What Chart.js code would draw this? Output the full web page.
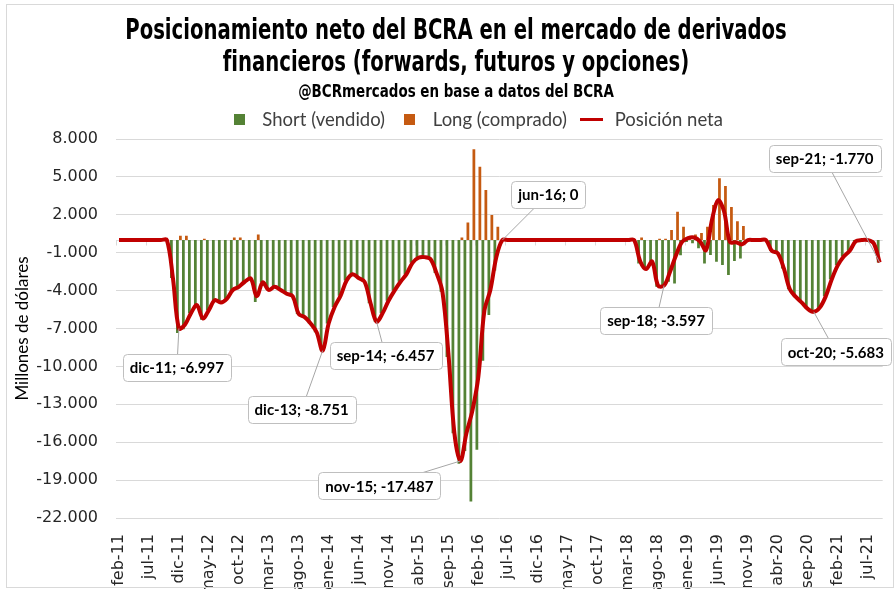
<!DOCTYPE html>
<html lang="es">
<head>
<meta charset="utf-8">
<title>Posicionamiento neto del BCRA</title>
<script src="https://cdn.jsdelivr.net/npm/chart.js@4.4.1/dist/chart.umd.min.js"></script>
<style>
    html, body { margin: 0; padding: 0; background: #fff; }
    #wrap { position: relative; width: 895px; height: 589px; }
    #frame { position: absolute; left: 6px; top: 4px; width: 886px; height: 582px; border: 1px solid #d9d9d9; pointer-events: none; }
</style>
</head>
<body>
<div id="wrap">
    <canvas id="chart" width="895" height="589"></canvas>
    <div id="frame"></div>
</div>
<script>
// millones de USD, mensual desde feb-11 hasta sep-21
const shortPos = [
    0, 0, 0, 0, 0, 0, 0, 0, 0, -3000, -7350,                                      // 2011 (feb-dic)
    -7050, -5800, -5150, -6300, -5550, -4750, -4950, -4650, -4150, -3900, -3300, -3050, // 2012
    -4900, -3350, -3950, -3700, -3950, -4250, -4450, -5850, -6100, -6600, -7300, -8751, // 2013
    -6600, -5300, -4400, -3200, -2700, -3000, -3300, -5000, -6457, -5800, -4800, -4000, // 2014
    -3300, -2700, -1800, -1400, -1350, -1500, -2600, -4100, -9250, -15300, -17700, -16700, // 2015
    -20700, -16600, -9560, -5930, -2400, 0, 0, 0, 0, 0, 0, 0,                     // 2016
    0, 0, 0, 0, 0, 0, 0, 0, 0, 0, 0, 0,                                           // 2017
    0, 0, 0, 0, -1850, -2300, -1700, -3700, -3700, -3300, -3430, -1200,           // 2018
    -150, -250, -650, -1850, -1190, -1720, -1980, -2770, -1650, -1450, -100, 0,   // 2019
    0, 0, -850, -1050, -2250, -3900, -4500, -4950, -5450, -5683, -5350, -4450,    // 2020
    -3100, -2000, -1300, -850, -100, 0, 0, -250, -1770                            // 2021 (ene-sep)
];

const longPos = [
    0, 0, 0, 0, 0, 0, 0, 0, 0, 0, 350,
    350, 0, 0, 100, 0, 0, 0, 0, 200, 200, 0, 0,
    450, 0, 0, 0, 0, 0, 0, 0, 0, 0, 0, 0,
    0, 0, 0, 0, 0, 0, 0, 0, 0, 0, 0, 0,
    0, 0, 0, 0, 0, 0, 0, 0, 0, 0, 200, 1400,
    7180, 5800, 3960, 1980, 1050, 0, 0, 0, 0, 0, 0, 0,
    0, 0, 0, 0, 0, 0, 0, 0, 0, 0, 0, 0,
    0, 0, 0, 0, 210, 0, 0, 100, 100, 800, 2240, 1050,
    300, 450, 550, 1050, 2770, 4890, 4280, 2620, 1480, 1110, 100, 0,
    0, 0, 0, 0, 0, 0, 0, 0, 0, 0, 0, 0,
    0, 0, 0, 0, 0, 0, 0, 0, 0
];

const netPosition = [
    0, 0, 0, 0, 0, 0, 0, 0, 0, -3000, -6997,
    -6700, -5800, -5150, -6200, -5550, -4750, -4950, -4650, -3950, -3700, -3300, -3050,
    -4450, -3350, -3950, -3700, -3950, -4250, -4450, -5850, -6100, -6600, -7300, -8751,
    -6600, -5300, -4400, -3200, -2700, -3000, -3300, -5000, -6457, -5800, -4800, -4000,
    -3300, -2700, -1800, -1400, -1350, -1500, -2600, -4100, -9000, -15300, -17487, -15300,
    -13500, -10800, -5600, -3950, -1350, 0, 0, 0, 0, 0, 0, 0,
    0, 0, 0, 0, 0, 0, 0, 0, 0, 0, 0, 0,
    0, 0, 0, 0, -1650, -2300, -1700, -3600, -3597, -2500, -1200, -150,
    150, 200, -100, -800, 1600, 3150, 2300, -150, -170, -340, 0, 0,
    0, 0, -850, -1050, -2250, -3900, -4500, -4950, -5450, -5683, -5350, -4450,
    -3100, -2000, -1300, -850, -100, 0, 0, -250, -1770
];

const monthNames = ['ene', 'feb', 'mar', 'abr', 'may', 'jun', 'jul', 'ago', 'sep', 'oct', 'nov', 'dic'];
const startYear = 2011;
const startMonth = 1; // feb

const months = [];
for (let k = 0; k < netPosition.length; k++) {
    const m = startMonth + k;
    months.push(monthNames[m % 12] + '-' + String((startYear + Math.floor(m / 12)) % 100).padStart(2, '0'));
}

const yMin = -22000;
const yMax = 8000;
const yStep = 3000;
const labelEvery = 5;

const titleText = ['Posicionamiento neto del BCRA en el mercado de derivados', 'financieros (forwards, futuros y opciones)'];
const subtitleText = '@BCRmercados en base a datos del BCRA';

// puntos anotados: indice del mes y desplazamiento de la caja respecto del punto
const callouts = [
    { index: 10, dx: -2, dy: 39 },
    { index: 34, dx: -21, dy: 59 },
    { index: 43, dx: 9, dy: 34 },
    { index: 57, dx: -81, dy: 25 },
    { index: 64, dx: 46, dy: -46 },
    { index: 91, dx: -8, dy: 35 },
    { index: 116, dx: 22, dy: 40 },
    { index: 127, dx: -55, dy: -104 }
];

const GREEN = '#548235';
const ORANGE = '#C55A11';
const RED = '#C00000';
const GRID = '#d9d9d9';
const CONDENSED = '"Liberation Sans Narrow", "DejaVu Sans Condensed", sans-serif';

function fmt(v) {
    const s = Math.abs(Math.round(v)).toString().replace(/\B(?=(\d{3})+(?!\d))/g, '.');
    return (v < 0 ? '-' : '') + s;
}

function swatch(w, h, color) {
    const c = document.createElement('canvas');
    c.width = w;
    c.height = h;
    const g = c.getContext('2d');
    g.fillStyle = color;
    g.fillRect(0, 0, w, h);
    return c;
}

// titulo en letra condensada (estirado a lo alto como en el original)
const titlePlugin = {
    id: 'condensedTitle',
    afterDraw(chart) {
        const ctx = chart.ctx;
        const rows = [
            { text: titleText[0], y: 32, size: 28, sx: 0.78 },
            { text: titleText[1], y: 64, size: 28, sx: 0.78 },
            { text: subtitleText, y: 92, size: 18, sx: 0.83 }
        ];
        rows.forEach(r => {
            ctx.save();
            ctx.font = 'bold ' + r.size + 'px ' + CONDENSED;
            ctx.fillStyle = '#000';
            ctx.textAlign = 'center';
            ctx.textBaseline = 'middle';
            ctx.translate(456, r.y);
            ctx.scale(r.sx, 1);
            ctx.fillText(r.text, 0, 0);
            ctx.restore();
        });
    }
};

// la leyenda del original esta algo corrida a la derecha
const legendShiftPlugin = {
    id: 'legendShift',
    afterLayout(chart) {
        if (chart.legend) {
            chart.legend.left += 26;
            chart.legend.right += 26;
        }
    }
};

// linea del eje en 0 con sus marcas
const zeroAxisPlugin = {
    id: 'zeroAxis',
    beforeDatasetsDraw(chart) {
        const { ctx, chartArea, scales: { x, y } } = chart;
        const y0 = Math.round(y.getPixelForValue(0)) + 0.5;
        const half = (x.getPixelForValue(1) - x.getPixelForValue(0)) / 2;
        ctx.save();
        ctx.strokeStyle = GRID;
        ctx.lineWidth = 1;
        ctx.beginPath();
        ctx.moveTo(chartArea.left, y0);
        ctx.lineTo(chartArea.right, y0);
        for (let k = 0; k <= months.length; k += labelEvery) {
            const px = Math.round(x.getPixelForValue(k) - half) + 0.5;
            ctx.moveTo(px, y0);
            ctx.lineTo(px, y0 + 5);
        }
        ctx.stroke();
        ctx.restore();
    }
};

const calloutPlugin = {
    id: 'callouts',
    afterDatasetsDraw(chart) {
        const { ctx, scales: { x, y } } = chart;
        ctx.save();
        ctx.font = 'bold 15px Lato';
        ctx.textAlign = 'center';
        ctx.textBaseline = 'middle';
        callouts.forEach(c => {
            const px = x.getPixelForValue(c.index);
            const py = y.getPixelForValue(netPosition[c.index]);
            const text = months[c.index] + '; ' + fmt(netPosition[c.index]);
            const w = ctx.measureText(text).width + 14;
            const h = 27;
            const cx = px + c.dx;
            const cy = py + c.dy;

            ctx.strokeStyle = '#a6a6a6';
            ctx.lineWidth = 1;
            ctx.beginPath();
            ctx.moveTo(px, py);
            ctx.lineTo(cx, cy);
            ctx.stroke();

            ctx.beginPath();
            ctx.roundRect(Math.round(cx - w / 2) + 0.5, Math.round(cy - h / 2) + 0.5, Math.round(w), h, 4);
            ctx.fillStyle = '#ffffff';
            ctx.fill();
            ctx.strokeStyle = '#bfbfbf';
            ctx.stroke();

            ctx.fillStyle = '#000000';
            ctx.fillText(text, cx, cy + 1);
        });
        ctx.restore();
    }
};

const ctx = document.getElementById('chart').getContext('2d');

new Chart(ctx, {
    type: 'bar',
    data: {
        labels: months,
        datasets: [
            {
                label: 'Short (vendido)',
                data: shortPos,
                backgroundColor: GREEN,
                pointStyle: swatch(11, 11, GREEN),
                barPercentage: 0.92,
                categoryPercentage: 1.0,
                order: 1
            },
            {
                label: 'Long (comprado)',
                data: longPos,
                backgroundColor: ORANGE,
                pointStyle: swatch(11, 11, ORANGE),
                barPercentage: 0.92,
                categoryPercentage: 1.0,
                order: 1
            },
            {
                type: 'line',
                label: 'Posición neta',
                data: netPosition,
                borderColor: RED,
                backgroundColor: RED,
                borderWidth: 4,
                pointRadius: 0,
                pointStyle: swatch(23, 3, RED),
                tension: 0.35,
                order: 0
            }
        ]
    },
    options: {
        responsive: false,
        animation: false,
        layout: {
            padding: { top: 100, left: 6, right: 5, bottom: 0 }
        },
        plugins: {
            title: { display: false },
            legend: {
                position: 'top',
                labels: {
                    usePointStyle: true,
                    pointStyleWidth: 28,
                    boxHeight: 11,
                    padding: 10.5,
                    color: '#404040',
                    font: { family: 'Lato', size: 18.5 },
                    sort: (a, b) => a.datasetIndex - b.datasetIndex
                }
            },
            tooltip: { enabled: false }
        },
        scales: {
            x: {
                grid: { display: false },
                border: { display: false },
                ticks: {
                    autoSkip: false,
                    maxRotation: 90,
                    minRotation: 90,
                    padding: 8,
                    color: '#262626',
                    font: { family: '"DejaVu Sans"', size: 16 },
                    callback: (val, idx) => idx % labelEvery === 0 ? months[idx] : null
                },
                afterFit: scale => { scale.height = 71; }
            },
            y: {
                min: yMin,
                max: yMax,
                grid: { color: GRID, drawTicks: false },
                border: { display: false },
                ticks: {
                    stepSize: yStep,
                    padding: 18,
                    color: '#262626',
                    font: { family: '"DejaVu Sans"', size: 16 },
                    callback: v => fmt(v)
                },
                title: {
                    display: true,
                    text: 'Millones de dólares',
                    color: '#000',
                    font: { family: 'Lato', size: 17 },
                    padding: { top: 6, bottom: 0 }
                },
                afterFit: scale => { scale.width = 110; }
            }
        }
    },
    plugins: [titlePlugin, legendShiftPlugin, zeroAxisPlugin, calloutPlugin]
});
</script>
</body>
</html>
